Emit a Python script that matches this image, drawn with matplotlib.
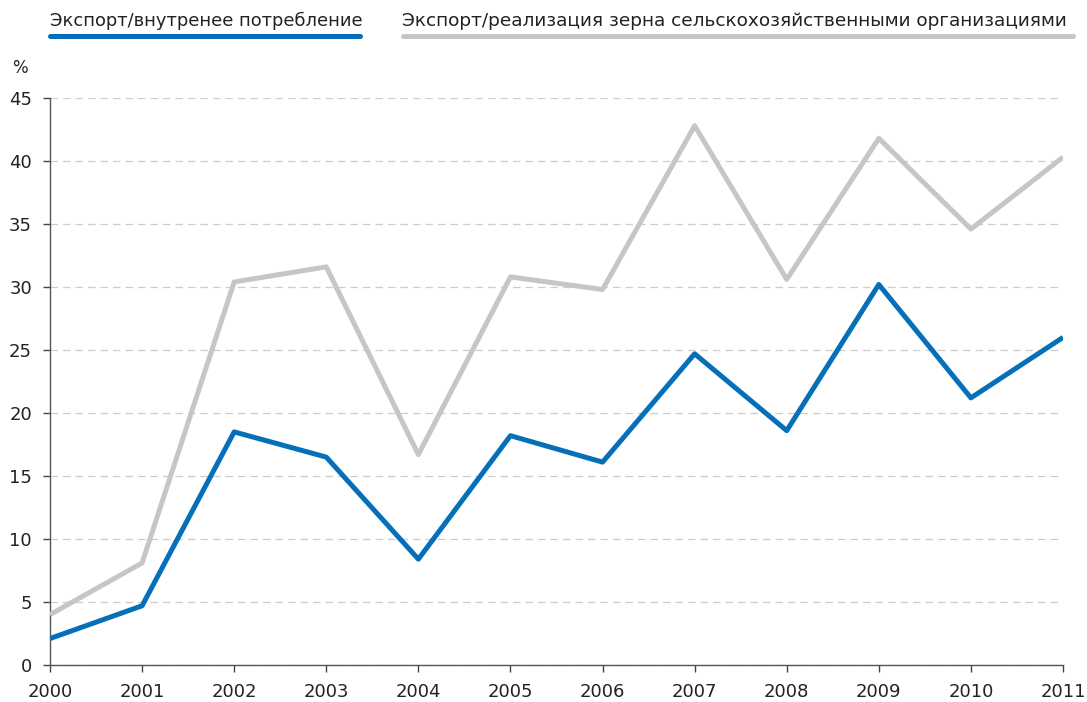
import matplotlib.pyplot as plt
from matplotlib.lines import Line2D

years = [2000, 2001, 2002, 2003, 2004, 2005, 2006, 2007, 2008, 2009, 2010, 2011]
export_consumption = [2.1, 4.7, 18.5, 16.5, 8.4, 18.2, 16.1, 24.7, 18.6, 30.2, 21.2, 26.0]
export_sales = [4.0, 8.1, 30.4, 31.6, 16.7, 30.8, 29.8, 42.8, 30.6, 41.8, 34.6, 40.3]
label_blue = "Экспорт/внутренее потребление"
label_gray = "Экспорт/реализация зерна сельскохозяйственными организациями"

BLUE = "#0570b9"
GRAY = "#c6c6ca"
W, H = 1087, 702

fig = plt.figure(figsize=(W / 100, H / 100), dpi=100)
ax = fig.add_axes([50 / W, 1 - 665 / H, (1063 - 50) / W, (665 - 98) / H])

ax.plot(years, export_sales, color=GRAY, lw=3.6, solid_capstyle="butt", zorder=3)
ax.plot(years, export_consumption, color=BLUE, lw=3.6, solid_capstyle="butt", zorder=4)

ax.set_xlim(2000, 2011)
ax.set_ylim(0, 45)
ax.set_xticks(years)
ax.set_yticks(range(0, 50, 5))
ax.tick_params(axis="both", labelsize=13, length=5, width=1, direction="out",
               pad=8, colors="#444444", labelcolor="#222222")

for s in ("top", "right"):
    ax.spines[s].set_visible(False)
for s in ("left", "bottom"):
    ax.spines[s].set_color("#555555")
    ax.spines[s].set_linewidth(1)

ax.yaxis.grid(True, linestyle=(0, (6, 4)), color="#cccccc", lw=0.9)
ax.set_axisbelow(True)

fig.text(20 / W, 1 - 68 / H, "%", fontsize=12, color="#222222", ha="center", va="center")

# legend drawn at the top
fig.text(50 / W, 1 - 21 / H, label_blue, fontsize=12.9, color="#222222",
         ha="left", va="center")
fig.add_artist(Line2D([50 / W, 360 / W], [1 - 36 / H] * 2, color=BLUE, lw=3.6,
                      solid_capstyle="round", transform=fig.transFigure))
fig.text(402 / W, 1 - 21 / H, label_gray, fontsize=13.3, color="#222222",
         ha="left", va="center")
fig.add_artist(Line2D([403 / W, 1073 / W], [1 - 36 / H] * 2, color=GRAY, lw=3.6,
                      solid_capstyle="round", transform=fig.transFigure))

fig.savefig("out.png", dpi=100)
